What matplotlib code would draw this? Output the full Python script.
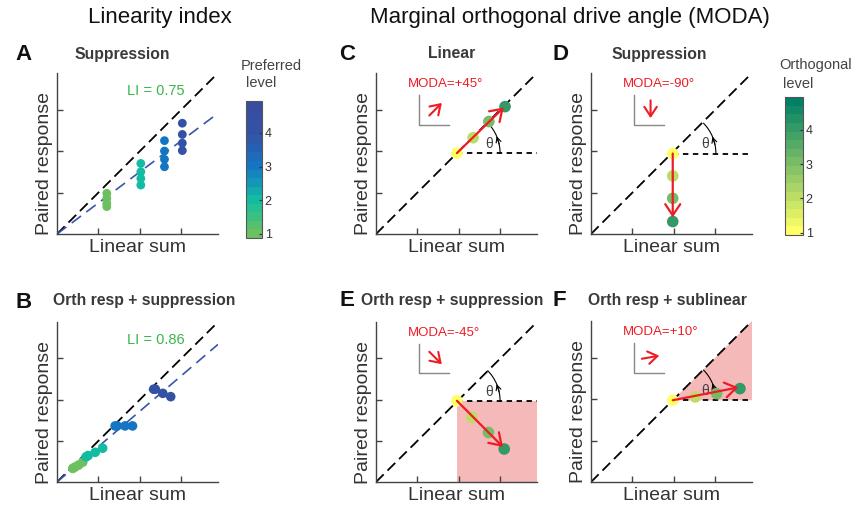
import numpy as np
import matplotlib
matplotlib.use('Agg')
import matplotlib.pyplot as plt
from matplotlib.colors import ListedColormap, Normalize
from matplotlib.cm import ScalarMappable
from matplotlib.patches import Arc, Polygon, Rectangle

plt.rcParams['font.family'] = ['Liberation Sans', 'DejaVu Sans']

W, H = 859, 508
LIM = 3.88
ticks = [1, 2, 3]

# ---- linearity index panels (A, B) ----
a_x = [1.20, 1.20, 1.20, 1.20, 2.02, 2.02, 2.02, 2.02,
       2.59, 2.59, 2.59, 2.59, 3.02, 3.02, 3.02, 3.02]
a_y = [0.98, 0.86, 0.74, 0.66, 1.70, 1.50, 1.34, 1.18,
       2.25, 2.00, 1.80, 1.62, 2.67, 2.40, 2.19, 2.01]
a_level = [1, 1, 1, 1, 2, 2, 2, 2, 3, 3, 3, 3, 4, 4, 4, 4]
a_li = 0.75

b_x = [0.38, 0.43, 0.52, 0.62, 0.70, 0.75, 0.92, 1.10,
       1.40, 1.45, 1.64, 1.82, 2.33, 2.37, 2.55, 2.74]
b_y = [0.33, 0.36, 0.41, 0.48, 0.61, 0.64, 0.72, 0.82,
       1.36, 1.36, 1.36, 1.36, 2.25, 2.25, 2.15, 2.07]
b_level = [1, 1, 1, 1, 2, 2, 2, 2, 3, 3, 3, 3, 4, 4, 4, 4]
b_li = 0.86

# ---- MODA panels (C-F) ----
orth_level = [1, 2, 3, 4]
c_x = [1.95, 2.34, 2.72, 3.11]
c_y = [1.95, 2.32, 2.71, 3.07]
d_x = [1.97, 1.97, 1.97, 1.97]
d_y = [1.94, 1.40, 0.86, 0.30]
e_x = [1.95, 2.31, 2.71, 3.09]
e_y = [1.97, 1.57, 1.20, 0.80]
f_x = [1.97, 2.51, 3.03, 3.59]
f_y = [1.97, 2.05, 2.13, 2.25]
arrow_end = {'C': (3.08, 3.05), 'D': (1.97, 0.40), 'E': (3.06, 0.85), 'F': (3.55, 2.28)}
moda_angle = {'C': 45, 'D': -90, 'E': -45, 'F': 10}
moda_text = {'C': 'MODA=+45°', 'D': 'MODA=-90°', 'E': 'MODA=-45°', 'F': 'MODA=+10°'}

# colormaps
pref_anchor_lv = [0.88, 1.0, 1.5, 2.0, 2.5, 3.0, 3.5, 4.0, 4.95]
pref_anchor_rgb = np.array([[112, 190, 92], [110, 192, 95], [60, 192, 128], [18, 190, 162],
                            [20, 152, 182], [18, 120, 196], [38, 98, 180], [52, 82, 166],
                            [58, 76, 158]]) / 255.0
pref_norm = Normalize(0.88, 4.95)
band = np.linspace(0.88, 4.95, 17)
band_c = (band[:-1] + band[1:]) / 2
pref_cmap = ListedColormap(np.stack([np.interp(band_c, pref_anchor_lv, pref_anchor_rgb[:, k])
                                     for k in range(3)], axis=1))
orth_norm = Normalize(0.93, 4.96)
orth_cmap = plt.get_cmap('summer_r').resampled(16)

RED = '#ee1c24'
PINK = '#f5b9b9'
TXT = '#333333'
RED_HEAD = '->, head_length=0.45, head_width=0.3'

fig = plt.figure(figsize=(W / 100, H / 100), dpi=100)


def px_axes(l, t, r, b):
    return fig.add_axes([l / W, 1 - b / H, (r - l) / W, (b - t) / H])


def ftext(x, y, s, **kw):
    fig.text(x / W, 1 - y / H, s, **kw)


def setup(ax):
    ax.set_xlim(0, LIM)
    ax.set_ylim(0, LIM)
    ax.set_xticks(ticks)
    ax.set_yticks(ticks)
    ax.set_xticklabels([])
    ax.set_yticklabels([])
    ax.tick_params(direction='in', length=4, width=1, color='#444444')
    for s in ['top', 'right']:
        ax.spines[s].set_visible(False)
    for s in ['left', 'bottom']:
        ax.spines[s].set_color('#444444')
        ax.spines[s].set_linewidth(1)
    ax.set_xlabel('Linear sum', fontsize=14, color=TXT)
    ax.set_ylabel('Paired response', fontsize=14, color=TXT)
    ax.xaxis.set_label_coords(0.5, -0.03)
    ax.yaxis.set_label_coords(-0.025, 0.435)
    ax.plot([0, LIM], [0, LIM], color='k', ls=(0, (6, 3)), lw=1.3, zorder=1)


def li_panel(ax, xs, ys, lv, li, ms):
    setup(ax)
    ax.plot([0, LIM], [0, LIM * li], color='#3755aa', ls=(0, (7, 4)), lw=1.2, zorder=1)
    ax.scatter(xs, ys, s=ms, c=[pref_cmap(pref_norm(v)) for v in lv], linewidths=0, zorder=3)
    ax.text(0.435, 0.89, 'LI = %.2f' % li, transform=ax.transAxes, color='#3bb54a',
            fontsize=10.5, va='center', ha='left')


def moda_panel(ax, key, xs, ys, shade=None):
    setup(ax)
    x0, y0 = xs[0], ys[0]
    if shade == 'rect':
        ax.add_patch(Rectangle((x0, 0), LIM - x0, y0, color=PINK, lw=0, zorder=0))
    elif shade == 'tri':
        ax.add_patch(Polygon([(x0, y0), (LIM, LIM), (LIM, y0)], closed=True,
                             color=PINK, lw=0, zorder=0))
    ax.plot([x0, LIM], [y0, y0], color='k', ls=(0, (3, 2.5)), lw=1.3, zorder=1)
    r = 1.04
    ax.add_patch(Arc((x0, y0), 2 * r, 2 * r, theta1=0, theta2=45, color='k', lw=0.8, zorder=2))
    t1, t2 = np.radians(12), np.radians(23)
    ax.annotate('', xy=(x0 + r * np.cos(t2), y0 + r * np.sin(t2)),
                xytext=(x0 + r * np.cos(t1), y0 + r * np.sin(t1)),
                arrowprops=dict(arrowstyle='->', color='k', lw=0.8, mutation_scale=9,
                                shrinkA=0, shrinkB=0), zorder=2)
    ax.text(x0 + 0.78, y0 + 0.22, 'θ', fontsize=10, color='#444444', ha='center', va='center')
    ax.scatter(xs, ys, s=70, c=[orth_cmap(orth_norm(v)) for v in orth_level],
               linewidths=0, zorder=3)
    ax.annotate('', xy=arrow_end[key], xytext=(x0, y0),
                arrowprops=dict(arrowstyle=RED_HEAD, color=RED, lw=1.6, mutation_scale=18,
                                shrinkA=0, shrinkB=0), zorder=4)
    # icon
    ax.plot([0.265, 0.265, 0.455], [0.865, 0.68, 0.68], transform=ax.transAxes,
            color='#888888', lw=1)
    a = np.radians(moda_angle[key])
    cx, cy, L = 0.37, 0.775, 0.11
    ax.annotate('', xy=(cx + L / 2 * np.cos(a), cy + L / 2 * np.sin(a)),
                xytext=(cx - L / 2 * np.cos(a), cy - L / 2 * np.sin(a)),
                xycoords='axes fraction', textcoords='axes fraction',
                arrowprops=dict(arrowstyle=RED_HEAD, color=RED, lw=1.5, mutation_scale=15,
                                shrinkA=0, shrinkB=0))
    ax.text(0.2, 0.93, moda_text[key], transform=ax.transAxes, color=RED,
            fontsize=9.5, ha='left', va='center')


axA = px_axes(57, 73, 218, 234)
axB = px_axes(57, 322, 218, 482)
axC = px_axes(376, 73, 537, 234)
axD = px_axes(591, 73, 752, 234)
axE = px_axes(376, 322, 537, 482)
axF = px_axes(591, 321, 752, 482)

li_panel(axA, a_x, a_y, a_level, a_li, 40)
li_panel(axB, b_x, b_y, b_level, b_li, 48)
moda_panel(axC, 'C', c_x, c_y)
moda_panel(axD, 'D', d_x, d_y)
moda_panel(axE, 'E', e_x, e_y, shade='rect')
moda_panel(axF, 'F', f_x, f_y, shade='tri')

# colorbars
for (l, t, r, b), cmap, norm in [((246, 101, 262, 238), pref_cmap, pref_norm),
                                 ((785, 97, 803, 235), orth_cmap, orth_norm)]:
    cax = px_axes(l, t, r, b)
    cb = fig.colorbar(ScalarMappable(norm=norm, cmap=cmap), cax=cax, ticks=[1, 2, 3, 4])
    cb.outline.set_edgecolor('#555555')
    cb.outline.set_linewidth(0.8)
    cax.tick_params(direction='in', length=2, width=0.8, labelsize=9, colors=TXT, pad=2)

ftext(241, 66, 'Preferred', fontsize=10.5, color='#444444', va='center', ha='left')
ftext(246, 83, 'level', fontsize=10.5, color='#444444', va='center', ha='left')
ftext(779, 65, 'Orthogonal', fontsize=10.5, color='#444444', va='center', ha='left')
ftext(783, 84, 'level', fontsize=10.5, color='#444444', va='center', ha='left')

# headers, titles, panel letters
ftext(160, 18, 'Linearity index', fontsize=16, ha='center', va='center', color='#111111')
ftext(570, 18, 'Marginal orthogonal drive angle (MODA)', fontsize=16, ha='center',
      va='center', color='#111111')

titles = [(122, 54, 'Suppression'), (144, 301, 'Orth resp + suppression'),
          (452, 54, 'Linear'), (659, 54, 'Suppression'),
          (452, 301, 'Orth resp + suppression'), (667, 301, 'Orth resp + sublinear')]
for x, y, s in titles:
    ftext(x, y, s, fontsize=11.3, fontweight='bold', color='#3a3a3a', ha='center', va='center')

letters = [(23, 54, 'A'), (24, 302, 'B'), (347, 54, 'C'), (560, 54, 'D'),
           (347, 301, 'E'), (559, 301, 'F')]
for x, y, s in letters:
    ftext(x, y, s, fontsize=16, fontweight='bold', color='#111111', ha='center', va='center')

fig.savefig('out.png', dpi=100)
